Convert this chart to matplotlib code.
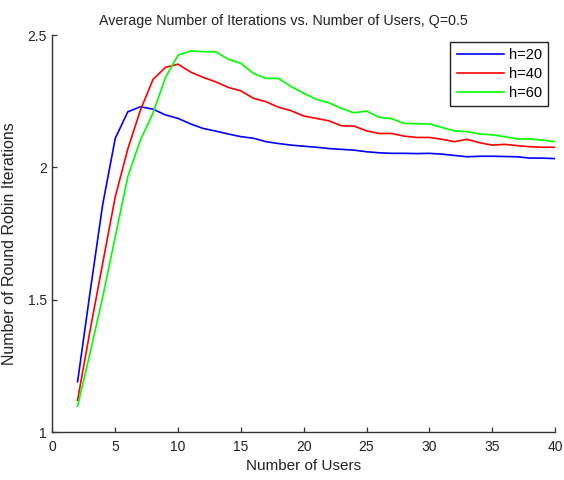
import matplotlib
matplotlib.use("Agg")
import matplotlib.pyplot as plt

plt.rcParams["font.family"] = ["Liberation Sans", "DejaVu Sans"]

users = list(range(2, 41))
h20 = [1.19, 1.53, 1.86, 2.11, 2.21, 2.229, 2.22, 2.198, 2.185, 2.164, 2.147,
       2.137, 2.126, 2.116, 2.11, 2.097, 2.09, 2.084, 2.08, 2.076, 2.071, 2.068,
       2.065, 2.059, 2.055, 2.053, 2.053, 2.052, 2.053, 2.05, 2.045, 2.04,
       2.042, 2.042, 2.041, 2.04, 2.035, 2.035, 2.033]
h40 = [1.12, 1.385, 1.638, 1.889, 2.07, 2.216, 2.332, 2.378, 2.39, 2.36, 2.34,
       2.323, 2.302, 2.289, 2.261, 2.248, 2.227, 2.214, 2.194, 2.185, 2.176,
       2.157, 2.156, 2.138, 2.128, 2.128, 2.118, 2.113, 2.113, 2.106, 2.097,
       2.106, 2.093, 2.084, 2.087, 2.082, 2.078, 2.076, 2.076]
h60 = [1.098, 1.30, 1.51, 1.738, 1.965, 2.103, 2.205, 2.34, 2.424, 2.44, 2.437,
       2.437, 2.408, 2.393, 2.355, 2.336, 2.336, 2.305, 2.28, 2.257, 2.244,
       2.223, 2.206, 2.213, 2.189, 2.184, 2.166, 2.165, 2.164, 2.151, 2.138,
       2.135, 2.126, 2.123, 2.116, 2.107, 2.107, 2.103, 2.097]

fig = plt.figure(figsize=(5.64, 4.8), dpi=100)
ax = fig.add_axes([0.093, 0.1, 0.891, 0.827])

ax.plot(users, h20, color="#0000ff", lw=1.2, label="h=20")
ax.plot(users, h40, color="#ff0000", lw=1.2, label="h=40")
ax.plot(users, h60, color="#00ff00", lw=1.2, label="h=60")

ax.set_xlim(0, 40)
ax.set_ylim(1, 2.5)
ax.set_xticks(range(0, 41, 5))
ax.set_yticks([1, 1.5, 2, 2.5])
ax.set_yticklabels(["1", "1.5", "2", "2.5"])
ax.tick_params(direction="in", labelsize=10, length=3.5, width=0.9,
               colors="#333333", labelcolor="#222222")
ax.tick_params(axis="x", pad=6)
ax.tick_params(axis="y", pad=4)
ax.spines["top"].set_visible(False)
ax.spines["right"].set_visible(False)
for s in ("left", "bottom"):
    ax.spines[s].set_linewidth(1.0)
    ax.spines[s].set_color("#333333")

ax.set_title("Average Number of Iterations vs. Number of Users, Q=0.5",
             fontsize=10.3, pad=7, x=0.459, color="#222222")
ax.set_xlabel("Number of Users", fontsize=11, labelpad=3, color="#222222")
ax.set_ylabel("Number of Round Robin Iterations", fontsize=11.5,
              color="#222222")
ax.yaxis.set_label_coords(-0.0706, 0.474)

leg = ax.legend(loc="upper right", fontsize=10.5, fancybox=False,
                edgecolor="#222222", framealpha=1, borderaxespad=0.45,
                borderpad=0.45, handlelength=3.2, handletextpad=0.35,
                labelspacing=0.33)
leg.get_frame().set_linewidth(1.0)

fig.savefig("out.png", dpi=100)
